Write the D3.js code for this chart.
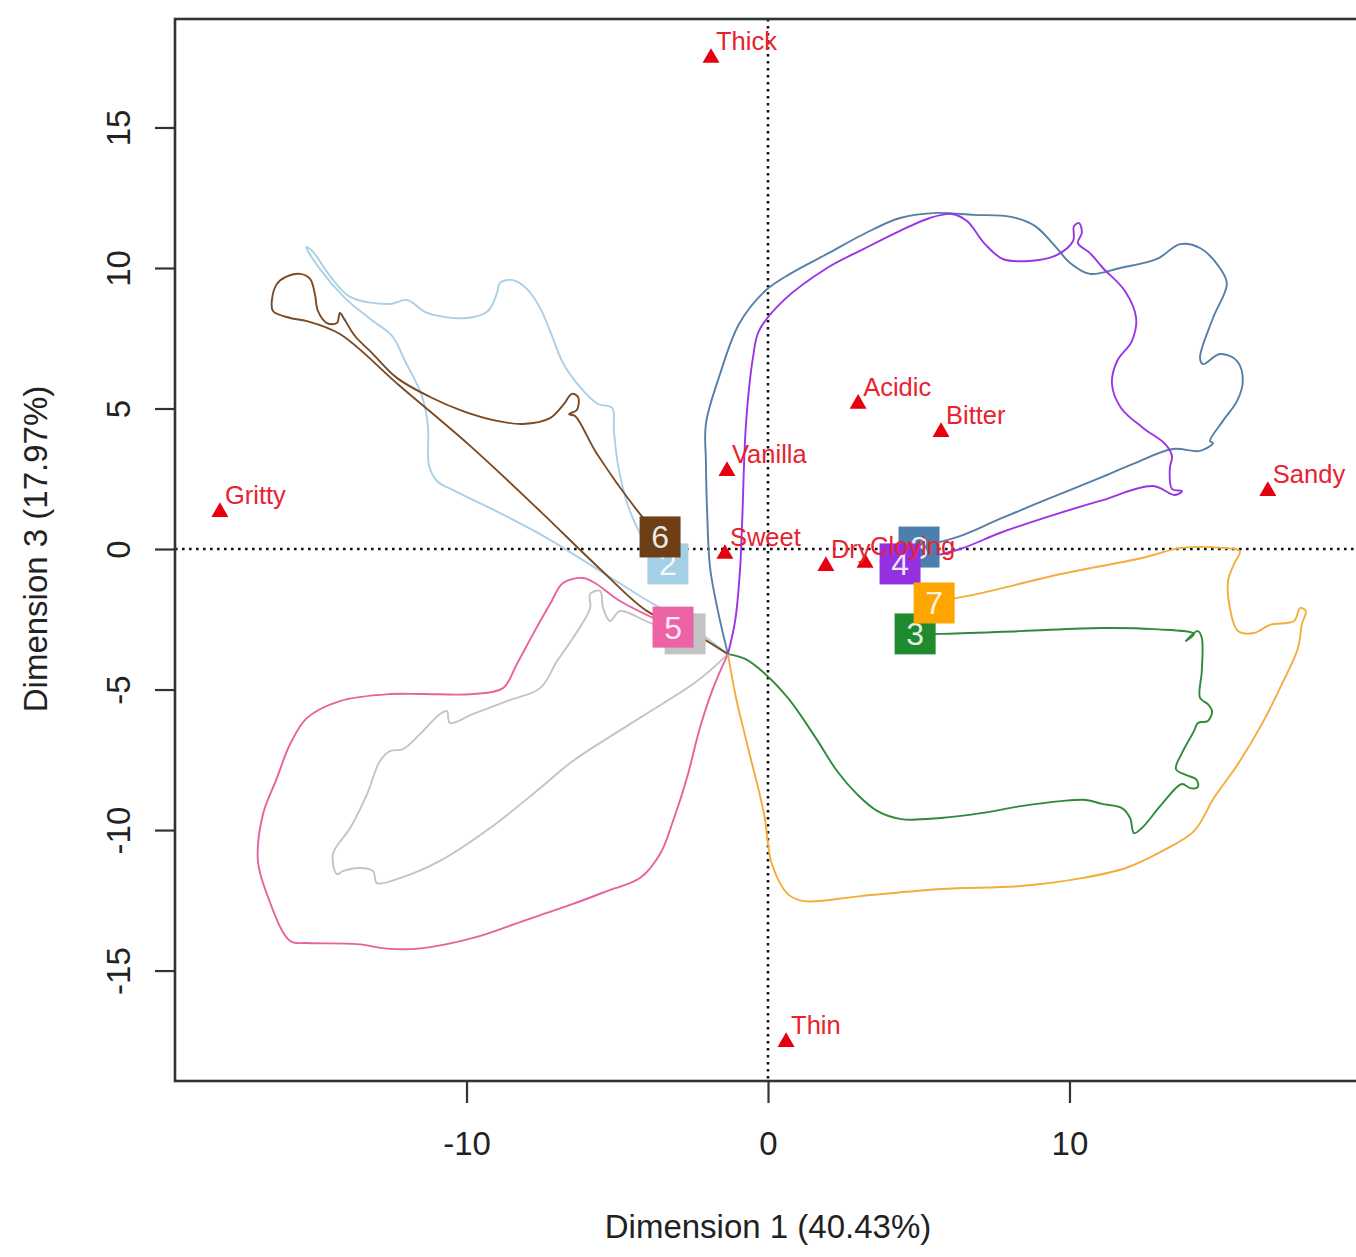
<!DOCTYPE html>
<html>
<head>
<meta charset="utf-8">
<script src="https://cdn.jsdelivr.net/npm/d3@7"></script>
<style>
  html, body { margin: 0; padding: 0; background: #fff; }
  svg { display: block; font-family: "Liberation Sans", Arial, sans-serif; }
</style>
</head>
<body>
<svg id="chart"></svg>
<script>
// Trajectories (Dimension 1, Dimension 3), each starting at the common origin
const traj1 = [[-1.33,-3.74],[-2.35,-4.70],[-4.25,-6.01],[-6.47,-7.54],[-7.56,-8.51],[-9.22,-9.93],[-10.88,-11.10],[-12.21,-11.71],[-12.97,-11.89],[-13.10,-11.46],[-13.53,-11.35],[-14.10,-11.46],[-14.30,-11.57],[-14.43,-10.85],[-13.86,-9.93],[-13.30,-8.72],[-12.87,-7.54],[-12.54,-7.19],[-12.11,-7.12],[-11.54,-6.58],[-10.88,-5.87],[-10.65,-5.77],[-10.55,-6.19],[-9.78,-5.87],[-8.66,-5.41],[-7.56,-4.95],[-7.00,-3.99],[-6.47,-3.17],[-5.90,-2.10],[-5.90,-1.60],[-5.57,-1.49],[-5.47,-2.10],[-5.24,-2.56],[-4.91,-2.21],[-3.91,-2.63],[-2.75,-3.02]];
const traj2 = [[-1.33,-3.74],[-2.59,-2.74],[-4.25,-1.67],[-5.57,-0.78],[-7.33,0.39],[-8.89,1.28],[-10.38,2.06],[-10.98,2.42],[-11.24,2.95],[-11.28,4.38],[-11.48,5.45],[-12.04,6.69],[-12.47,7.58],[-13.20,8.19],[-14.03,8.93],[-14.86,9.96],[-15.32,10.75],[-15.12,10.61],[-14.53,9.72],[-13.86,8.97],[-12.54,8.72],[-11.97,8.86],[-11.31,8.40],[-9.98,8.22],[-9.29,8.47],[-8.99,9.11],[-8.89,9.47],[-8.46,9.57],[-7.99,9.25],[-7.56,8.58],[-7.23,7.76],[-6.80,6.62],[-6.24,5.77],[-5.64,5.16],[-5.17,5.02],[-5.11,4.20],[-4.98,3.03],[-4.64,1.53],[-4.08,0.28],[-3.32,-0.53]];
const traj3 = [[-1.33,-3.74],[-0.76,-3.91],[-0.13,-4.41],[0.66,-5.30],[1.59,-6.73],[2.29,-7.90],[2.95,-8.72],[3.62,-9.32],[4.41,-9.61],[5.74,-9.57],[7.07,-9.40],[8.39,-9.15],[9.72,-8.97],[10.55,-8.93],[11.08,-9.07],[11.74,-9.22],[12.01,-9.57],[12.14,-10.11],[12.40,-9.93],[13.07,-9.07],[13.73,-8.36],[14.00,-8.51],[14.26,-8.47],[14.20,-8.19],[13.86,-8.04],[13.53,-7.83],[13.73,-7.26],[14.13,-6.48],[14.26,-6.19],[14.59,-6.12],[14.73,-5.77],[14.59,-5.52],[14.33,-5.30],[14.39,-4.34],[14.39,-3.17],[14.26,-2.92],[13.86,-3.27],[14.13,-3.02],[12.80,-2.85],[11.08,-2.81],[8.39,-2.92],[5.74,-3.02],[4.88,-3.02]];
const traj4 = [[-1.33,-3.74],[-1.09,-2.56],[-0.93,-0.78],[-0.86,0.89],[-0.73,4.45],[-0.50,6.80],[-0.30,7.76],[0.50,8.83],[1.96,10.00],[3.18,10.68],[4.38,11.32],[5.37,11.78],[6.10,11.92],[6.60,11.67],[7.20,10.85],[7.79,10.32],[8.66,10.25],[9.52,10.43],[10.12,10.96],[10.15,11.49],[10.32,11.60],[10.41,11.25],[10.28,10.89],[10.68,10.53],[11.11,10.00],[11.84,9.18],[12.21,8.22],[12.07,7.40],[11.58,6.69],[11.41,5.87],[11.71,5.02],[12.44,4.31],[13.17,3.74],[13.40,3.31],[13.33,2.88],[13.40,2.14],[13.73,2.06],[13.50,1.92],[12.77,2.24],[11.01,1.71],[9.35,1.17],[7.69,0.57],[6.37,0.00],[4.38,-0.53]];
const traj5 = [[-1.33,-3.74],[-1.82,-4.95],[-2.26,-6.37],[-2.69,-8.15],[-3.15,-9.68],[-3.58,-10.85],[-4.25,-11.71],[-5.34,-12.17],[-6.47,-12.63],[-8.13,-13.24],[-9.78,-13.84],[-11.44,-14.20],[-12.54,-14.23],[-13.63,-14.06],[-15.29,-14.02],[-15.85,-13.95],[-16.62,-12.28],[-16.92,-11.10],[-16.75,-9.43],[-16.29,-8.15],[-15.85,-6.94],[-15.29,-6.01],[-14.20,-5.41],[-12.54,-5.16],[-11.44,-5.16],[-9.78,-5.16],[-8.79,-4.95],[-8.33,-4.09],[-7.79,-3.02],[-7.23,-1.96],[-6.80,-1.21],[-6.14,-1.03],[-5.74,-1.21],[-4.91,-1.85],[-3.15,-2.78]];
const traj6 = [[-1.33,-3.74],[-2.59,-2.92],[-4.01,-2.21],[-5.57,-0.71],[-7.56,1.35],[-9.88,3.67],[-12.21,5.80],[-14.20,7.65],[-15.29,8.11],[-15.85,8.22],[-16.42,8.47],[-16.45,8.90],[-16.29,9.43],[-15.99,9.68],[-15.52,9.79],[-15.19,9.61],[-15.03,9.07],[-14.93,8.47],[-14.63,8.04],[-14.30,8.04],[-14.20,8.40],[-14.06,8.19],[-13.70,7.58],[-13.14,6.98],[-12.31,6.09],[-11.21,5.41],[-10.12,4.91],[-8.99,4.56],[-8.13,4.45],[-7.23,4.66],[-6.80,5.12],[-6.50,5.52],[-6.30,5.41],[-6.34,4.95],[-6.60,4.80],[-6.40,4.73],[-5.67,3.38],[-4.25,1.25],[-3.58,0.43]];
const traj7 = [[-1.33,-3.74],[-1.06,-5.30],[-0.66,-7.08],[-0.13,-9.43],[0.13,-11.21],[0.66,-12.28],[1.19,-12.53],[3.08,-12.35],[5.74,-12.10],[8.39,-11.99],[10.41,-11.71],[11.87,-11.35],[13.07,-10.75],[14.13,-10.04],[14.79,-8.86],[15.59,-7.65],[16.38,-6.23],[17.05,-4.80],[17.58,-3.52],[17.71,-2.67],[17.84,-2.21],[17.65,-2.10],[17.45,-2.56],[16.65,-2.70],[16.12,-2.99],[15.59,-2.92],[15.32,-2.10],[15.26,-1.14],[15.46,-0.53],[15.65,-0.07],[15.06,0.04],[13.73,0.04],[12.40,-0.32],[9.72,-0.89],[7.07,-1.57],[6.27,-1.74],[5.51,-1.92]];
const traj8 = [[-1.33,-3.74],[-1.66,-2.21],[-1.92,-0.68],[-2.02,1.35],[-2.06,3.13],[-2.06,4.45],[-1.59,6.23],[-0.96,8.01],[-0.10,9.18],[0.73,9.79],[1.96,10.50],[3.18,11.21],[4.38,11.78],[5.61,11.96],[6.83,11.89],[8.06,11.82],[8.86,11.49],[9.52,10.78],[10.02,10.18],[10.68,9.79],[11.68,10.00],[12.90,10.32],[13.67,10.85],[14.33,10.71],[14.99,10.00],[15.22,9.43],[14.76,8.22],[14.33,6.80],[14.43,6.58],[14.99,6.94],[15.56,6.69],[15.75,5.98],[15.56,5.27],[15.09,4.56],[14.66,3.84],[14.76,3.77],[14.33,3.49],[13.43,3.56],[12.11,3.03],[11.01,2.53],[9.35,1.81],[7.69,1.07],[6.37,0.46],[5.01,0.07]];

// Products (final positions), in drawing order
const productLabels = ["1", "2", "3", "8", "4", "5", "6", "7"];
const productX = [-2.75, -3.32, 4.88, 5.01, 4.38, -3.15, -3.58, 5.51];
const productY = [-3.02, -0.53, -3.02, 0.07, -0.53, -2.78, 0.43, -1.92];
const trajectories = { "1": traj1, "2": traj2, "3": traj3, "4": traj4, "5": traj5, "6": traj6, "7": traj7, "8": traj8 };

// Sensory attributes
const attrNames = ["Thick", "Gritty", "Vanilla", "Sweet", "Acidic", "Bitter", "Sandy", "Dry", "Cloying", "Thin"];
const attrX = [-1.89, -18.18, -1.36, -1.43, 2.99, 5.74, 16.58, 1.92, 3.22, 0.60];
const attrY = [17.51, 1.35, 2.81, -0.14, 5.20, 4.20, 2.10, -0.57, -0.46, -17.51];

const xTicks = [-10, 0, 10];
const yTicks = [-15, -10, -5, 0, 5, 10, 15];

// colours per product
const lineColor = {
  "1": "#c4c4c4", "2": "#a9d0e6", "3": "#2f8a3a", "4": "#9a35e6",
  "5": "#e8619f", "6": "#7a4a24", "7": "#f3ad3c", "8": "#557fa6"
};
const boxColor = {
  "1": "#c3c3c3", "2": "#a4cfe4", "3": "#1f8a2e", "4": "#9330e0",
  "5": "#ee63a6", "6": "#6e3f17", "7": "#ffa500", "8": "#4a7fae"
};

const w = 1356;
const h = 1257;
const plotLeft = 175, plotTop = 19, plotBottom = 1081, plotRight = 1361;

const svg = d3.select("#chart").attr("width", w).attr("height", h);

const xScale = d3.scaleLinear().domain([-19.67, 19.67]).range([plotLeft, plotRight]);
const yScale = d3.scaleLinear().domain([-18.93, 18.86]).range([plotBottom, plotTop]);

// reference lines through the origin
svg.append("line")
  .attr("x1", xScale(0)).attr("x2", xScale(0))
  .attr("y1", plotTop).attr("y2", plotBottom)
  .attr("stroke", "#111").attr("stroke-width", 2.6)
  .attr("stroke-dasharray", "2.6,4.4");
svg.append("line")
  .attr("x1", plotLeft).attr("x2", plotRight)
  .attr("y1", yScale(0)).attr("y2", yScale(0))
  .attr("stroke", "#111").attr("stroke-width", 2.6)
  .attr("stroke-dasharray", "2.6,4.4");

// trajectories
const line = d3.line()
  .x(d => xScale(d[0]))
  .y(d => yScale(d[1]))
  .curve(d3.curveCatmullRom.alpha(0.5));

svg.append("g")
  .selectAll("path")
  .data(["1", "2", "5", "6", "3", "7", "8", "4"])
  .enter()
  .append("path")
  .attr("d", k => line(trajectories[k]))
  .attr("fill", "none")
  .attr("stroke", k => lineColor[k])
  .attr("stroke-width", 1.9)
  .attr("stroke-linejoin", "round");

// product squares with their numbers (square 1's number sits under square 5)
const sq = 41;
const products = productLabels.map((p, i) => ({ p, x: productX[i], y: productY[i] }));
const pg = svg.append("g").selectAll("g").data(products).enter().append("g");
pg.append("rect")
  .attr("x", d => xScale(d.x) - sq / 2)
  .attr("y", d => yScale(d.y) - sq / 2)
  .attr("width", sq)
  .attr("height", sq)
  .attr("fill", d => boxColor[d.p]);
pg.filter(d => d.p !== "1").append("text")
  .attr("x", d => xScale(d.x))
  .attr("y", d => yScale(d.y))
  .attr("dy", "0.36em")
  .attr("text-anchor", "middle")
  .attr("font-size", 32)
  .attr("fill", "#fff")
  .attr("fill-opacity", 0.88)
  .text(d => d.p);

// attribute triangles and labels
const attrs = attrNames.map((n, i) => ({ n, x: attrX[i], y: attrY[i] }));
const tri = d3.symbol().type(d3.symbolTriangle).size(125);
svg.append("g").selectAll("path").data(attrs).enter().append("path")
  .attr("d", tri)
  .attr("transform", d => `translate(${xScale(d.x)},${yScale(d.y) + 1})`)
  .attr("fill", "#e6000f");
svg.append("g").selectAll("text").data(attrs).enter().append("text")
  .attr("x", d => xScale(d.x) + 5)
  .attr("y", d => yScale(d.y) - 7)
  .attr("font-size", 25.5)
  .attr("fill", "#e8222e")
  .text(d => d.n);

// axes
const xAxis = svg.append("g")
  .attr("transform", `translate(0,${plotBottom})`)
  .call(d3.axisBottom(xScale).tickValues(xTicks).tickSize(22).tickFormat(d => String(d)));
xAxis.select(".domain").remove();
xAxis.selectAll("line").attr("stroke", "#333").attr("stroke-width", 2.2);
xAxis.selectAll("text")
  .attr("y", 62).attr("dy", "0.36em")
  .attr("font-size", 33).attr("fill", "#222")
  .attr("font-family", "Liberation Sans, Arial, sans-serif");

const yAxis = svg.append("g")
  .attr("transform", `translate(${plotLeft},0)`)
  .call(d3.axisLeft(yScale).tickValues(yTicks).tickSize(20).tickFormat(d => String(d)));
yAxis.select(".domain").remove();
yAxis.selectAll("line").attr("stroke", "#333").attr("stroke-width", 2.2);
yAxis.selectAll("text")
  .attr("x", null).attr("dy", "0.36em")
  .attr("text-anchor", "middle")
  .attr("transform", "translate(-57,0) rotate(-90)")
  .attr("font-size", 33).attr("fill", "#222")
  .attr("font-family", "Liberation Sans, Arial, sans-serif");

// plot frame
svg.append("rect")
  .attr("x", plotLeft).attr("y", plotTop)
  .attr("width", plotRight - plotLeft).attr("height", plotBottom - plotTop)
  .attr("fill", "none").attr("stroke", "#333").attr("stroke-width", 2.6);

// axis titles
svg.append("text")
  .attr("x", xScale(0)).attr("y", 1238)
  .attr("text-anchor", "middle")
  .attr("font-size", 33).attr("fill", "#222")
  .text("Dimension 1 (40.43%)");
svg.append("text")
  .attr("transform", `translate(35,${yScale(0)}) rotate(-90)`)
  .attr("dy", "0.36em")
  .attr("text-anchor", "middle")
  .attr("font-size", 33).attr("fill", "#222")
  .text("Dimension 3 (17.97%)");
</script>
</body>
</html>
